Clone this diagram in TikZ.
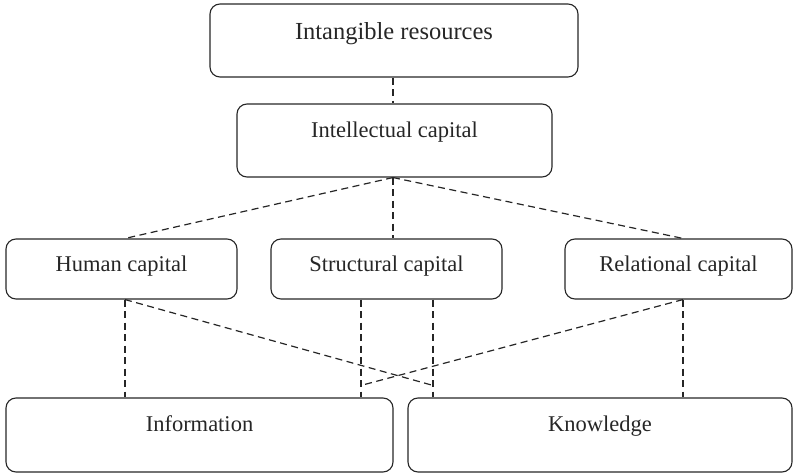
\documentclass[tikz,border=0pt]{standalone}
\usepackage{fontspec}
\setmainfont{Liberation Serif}
\usetikzlibrary{calc}
\begin{document}
\begin{tikzpicture}[x=1bp,y=-1bp,
  box/.style={draw=black!85, line width=1.1bp, rounded corners=10bp, inner sep=0pt},
  lbig/.style={font=\fontsize{24.5bp}{29bp}\selectfont, anchor=base, text=black!85, inner sep=0pt},
  lsmall/.style={font=\fontsize{22.5bp}{27bp}\selectfont, anchor=base, text=black!85, inner sep=0pt},
  link/.style={draw=black!85, line width=1.2bp, dash pattern=on 7bp off 4.5bp}]
\useasboundingbox (0,0) rectangle (793,476);

% boxes
\node[box, minimum width=368bp, minimum height=73bp] (ir) at (394,40.5) {};
\node[box, minimum width=315bp, minimum height=73bp] (ic) at (394.5,140.5) {};
\node[box, minimum width=231bp, minimum height=60bp] (hc) at (121.5,269) {};
\node[box, minimum width=231bp, minimum height=60bp] (sc) at (386.5,269) {};
\node[box, minimum width=227bp, minimum height=60bp] (rc) at (678.5,269) {};
\node[box, minimum width=387bp, minimum height=74bp] (inf) at (199.5,435) {};
\node[box, minimum width=384bp, minimum height=74bp] (kn) at (600,435) {};

% texts (placed on their baselines)
\node[lbig] (ir-t) at (394,39.3) {Intangible resources};
\node[lsmall] (ic-t) at (394.5,137.7) {Intellectual capital};
\node[lsmall] (hc-t) at (121.5,271.7) {Human capital};
\node[lsmall] (sc-t) at (386.5,271.7) {Structural capital};
\node[lsmall] (rc-t) at (678.5,271.7) {Relational capital};
\node[lsmall] (inf-t) at (199.5,431.7) {Information};
\node[lsmall] (kn-t) at (600,431.7) {Knowledge};

% top level
\coordinate (fan) at ([xshift=-1.5bp]ic.south);
\draw[link] (ir.south -| fan) -- (ic.north -| fan);
\draw[link] (fan) -- ([xshift=3.5bp]hc.north);
\draw[link] (fan) -- (fan |- sc.north);
\draw[link] (fan) -- ([xshift=4.5bp]rc.north);

% lower level
\coordinate (hcb) at ([xshift=3.5bp]hc.south);
\coordinate (rcb) at ([xshift=4.5bp]rc.south);
\coordinate (scl) at ([xshift=-25.5bp]sc.south);
\coordinate (scr) at ([xshift=46.5bp]sc.south);
\coordinate (hcend) at ($(scr |- inf.north)+(0,-12)$);
\coordinate (rcend) at ($(scl |- inf.north)+(0,-12)$);

\draw[link] (hcb) -- (hcb |- inf.north);
\draw[link] (scl) -- (scl |- inf.north);
\draw[link] (scr) -- (scr |- kn.north);
\draw[link] (rcb) -- (rcb |- kn.north);
\draw[link] (hcb) -- (hcend);
\draw[link] (rcb) -- (rcend);
\end{tikzpicture}
\end{document}
